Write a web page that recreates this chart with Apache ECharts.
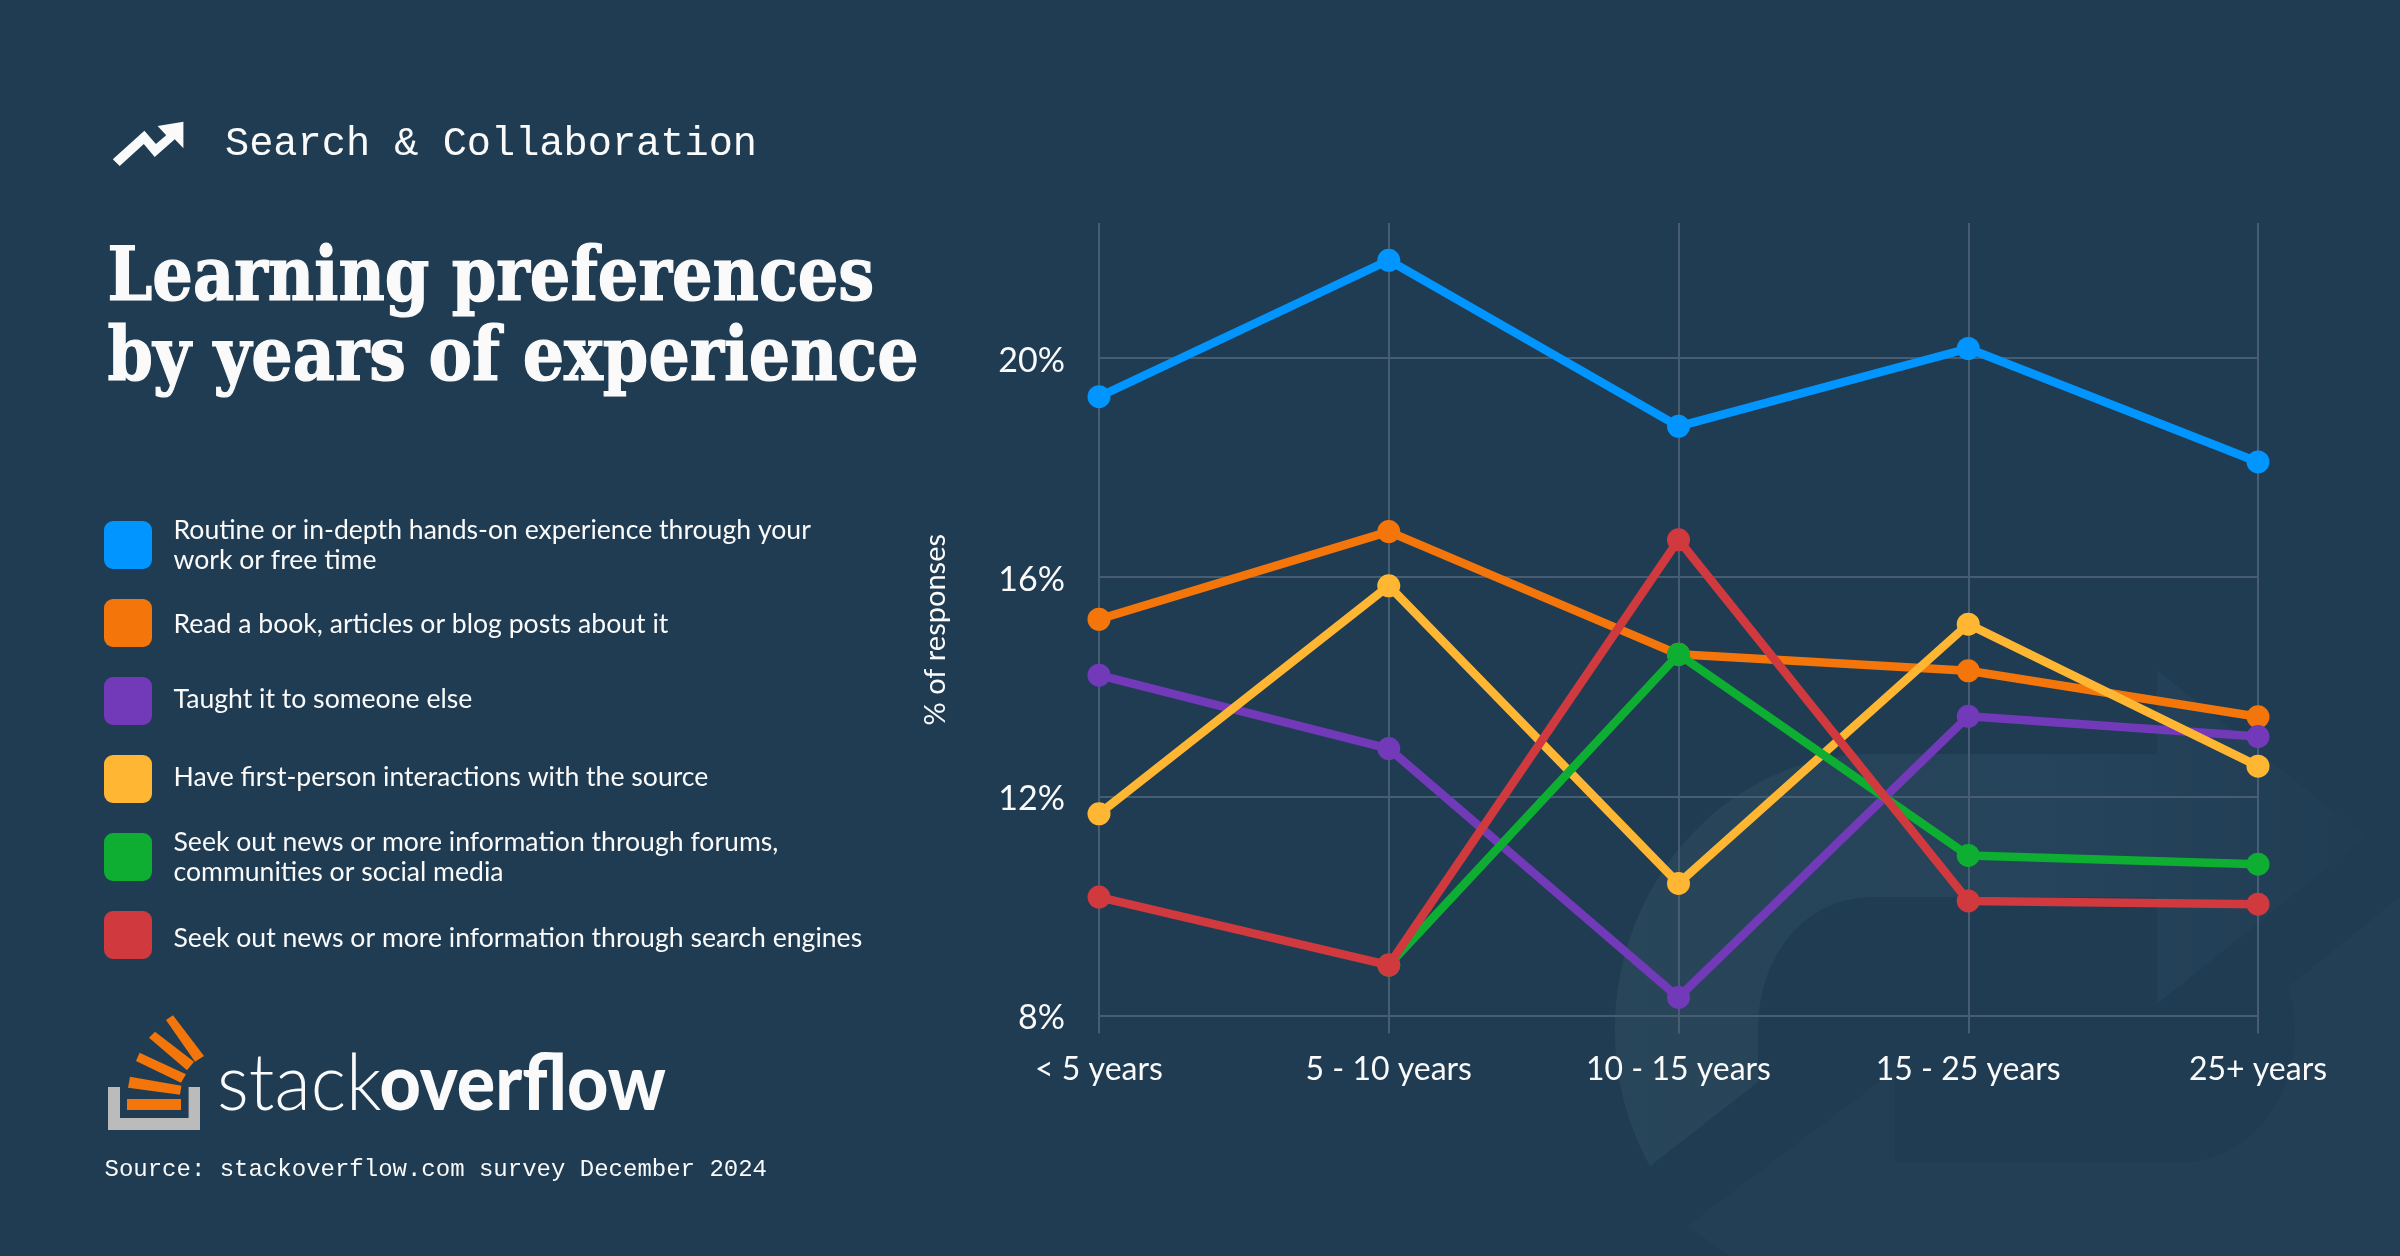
<!DOCTYPE html>
<html><head><meta charset="utf-8"><title>Learning preferences by years of experience</title>
<style>html,body{margin:0;padding:0;background:#1f3c53}#c{width:2400px;height:1256px}</style>
<script src="https://cdn.jsdelivr.net/npm/echarts@6/dist/echarts.min.js"></script></head>
<body><div id="c"></div><script>
const categories = ['< 5 years','5 - 10 years','10 - 15 years','15 - 25 years','25+ years'];
const yTicks = [8,12,16,20];
const names = ['Routine or in-depth hands-on experience through your\nwork or free time','Read a book, articles or blog posts about it','Taught it to someone else','Have first-person interactions with the source','Seek out news or more information through forums,\ncommunities or social media','Seek out news or more information through search engines'];
const handsOn = [19.29,21.78,18.75,20.17,18.10];
const reading = [15.23,16.83,14.59,14.29,13.45];
const teaching = [14.21,12.87,8.33,13.46,13.09];
const firstPerson = [11.68,15.84,10.41,15.14,12.55];
const forums = [null,8.92,14.59,10.92,10.76];
const searchEngines = [10.16,8.92,16.68,10.09,10.03];
const seriesValues = [handsOn,reading,teaching,firstPerson,forums,searchEngines];
const colors = ['#0095ff','#f4760b','#7239b8','#ffb733','#0dae31','#d0393e'];
const GRIDC = '#475e72', WHITE = '#fafafa', SANS = 'Lato';
const swatch = 'path://M9 0H39A9 9 0 0 1 48 9V39A9 9 0 0 1 39 48H9A9 9 0 0 1 0 39V9A9 9 0 0 1 9 0Z';
const legendPad = [[0,0],[3,0],[0,3],[0,3],[0,0],[6,0]];

echarts.graphic.registerShape('wmA',echarts.graphic.extendPath('M2157 670L2365 837L2157 1004V897H1873C1805 897 1758 955 1758 1031V1082L1650 1166C1628 1125 1615 1080 1615 1031C1615 880 1730 754 1873 754H2157Z',{}));
echarts.graphic.registerShape('wmB',echarts.graphic.extendPath('M2400 897L2288 987C2293 1002 2295 1015 2295 1031C2295 1105 2245 1163 2177 1163H1895V1070L1687 1226L1730 1256H2400Z',{}));

const chart = echarts.init(document.getElementById('c'),null,{width:2400,height:1256,devicePixelRatio:1});
const txt=(text,x,y,font,extra)=>Object.assign({type:'text',x,y,z:5,silent:true,style:Object.assign({text,font,fill:WHITE,align:'left',verticalAlign:'middle'},(extra||{}).style)},extra&&extra.scaleX?{scaleX:extra.scaleX}:{});
const poly=(pts,fill,z)=>({type:'polygon',z:z,silent:true,shape:{points:pts},style:{fill}});
const heavy={style:{stroke:WHITE,lineWidth:1.2}};
const legendBase={color:WHITE,fontFamily:SANS,fontSize:26.6,lineHeight:30};
chart.setOption({
  backgroundColor:'#1f3c53',
  animation:false,
  grid:{left:1099,right:142,top:223,bottom:240.5,containLabel:false},
  legend:names.map((n,i)=>{
    const lines=n.split('\n'), p=legendPad[i];
    const h=lines.length*30+p[0]+p[1];
    return {
      data:[n],selectedMode:false,left:104,top:521+78*i-Math.max(0,(h-48)/2),padding:0,
      itemWidth:48,itemHeight:48,icon:swatch,
      formatter:()=>lines.map((l,k)=>'{'+(k?'b':'a')+'|'+l+'}').join('\n'),
      textStyle:Object.assign({},legendBase,{padding:[0,0,0,16.5],rich:{
        a:Object.assign({},legendBase,{padding:[p[0],0,p[1],0]}),
        b:Object.assign({},legendBase)}})
    };
  }),
  xAxis:{type:'category',data:categories,boundaryGap:false,
    axisLine:{show:true,lineStyle:{color:GRIDC,width:2}},
    axisTick:{show:true,length:18,lineStyle:{color:GRIDC,width:2}},
    splitLine:{show:true,lineStyle:{color:GRIDC,width:2}},
    axisLabel:{color:WHITE,fontFamily:SANS,fontSize:32,margin:38,hideOverlap:false,showMinLabel:true,showMaxLabel:true}},
  yAxis:{type:'value',min:8,max:22.46,
    name:'% of responses',nameLocation:'middle',nameGap:149,nameRotate:90,
    nameTextStyle:{color:WHITE,fontFamily:SANS,fontSize:29,padding:[0,21,0,0]},
    axisLine:{show:false},
    axisTick:{show:false,customValues:yTicks},
    splitLine:{show:true,lineStyle:{color:GRIDC,width:2}},
    axisLabel:{margin:34,customValues:yTicks,formatter:v=>'{a|'+v+'%}',
      rich:{a:{color:WHITE,fontFamily:SANS,fontSize:34,padding:[6,0,0,0]}}}},
  series:names.map((n,i)=>({
    name:n,type:'line',data:seriesValues[i],symbol:'circle',symbolSize:23,showSymbol:true,
    lineStyle:{color:colors[i],width:8.5},itemStyle:{color:colors[i]},connectNulls:false,silent:true,z:3+i,
    emphasis:{disabled:true}
  })),
  graphic:{elements:[
    {type:'wmA',z:-5,silent:true,
      style:{fill:new echarts.graphic.LinearGradient(0,0,1,0,[{offset:0,color:'#284559'},{offset:.6,color:'#25435a'},{offset:1,color:'#203d54'}])}},
    {type:'wmB',z:-5,silent:true,style:{fill:'#233f56'}},
    poly([[112.8,159.3],[144.4,130.7],[155.9,144],[166.2,135.3],[157.6,126],[183.4,121.7],[183.4,148.3],[174.8,139.3],[154.7,157],[143.8,144],[119.7,166]],WHITE,5),
    txt('Search & Collaboration',225,144,'40.3px "Liberation Mono"'),
    txt('Learning preferences',107.5,281,'bold 74px "DejaVu Serif Condensed"',{scaleX:.958,style:heavy.style}),
    txt('by years of experience',107.5,361,'bold 74px "DejaVu Serif Condensed"',{scaleX:.978,style:heavy.style}),
    poly([[108,1087],[120,1087],[120,1118],[188.6,1118],[188.6,1087],[200,1087],[200,1130],[108,1130]],'#bcbbbb',5),
    poly([[127,1099],[181,1099],[181,1110],[127,1110]],'#f4760b',5),
    poly([[130,1076.7],[181.4,1085.7],[180,1094.7],[128,1087.7]],'#f4760b',5),
    poly([[139.6,1052.7],[186,1074.3],[181,1082.7],[136,1061]],'#f4760b',5),
    poly([[155,1031.7],[194,1061.7],[187,1070.3],[149,1037.7]],'#f4760b',5),
    poly([[173,1015.3],[204,1056],[195,1061.7],[166,1020]],'#f4760b',5),
    txt('stack',217,1085,'300 78px Lato',{scaleX:.96}),
    txt('overflow',379.5,1085,'900 78px Lato',{scaleX:.92}),
    txt('Source: stackoverflow.com survey December 2024',104.5,1170,'24px "Liberation Mono"')
  ]}
});
</script></body></html>
